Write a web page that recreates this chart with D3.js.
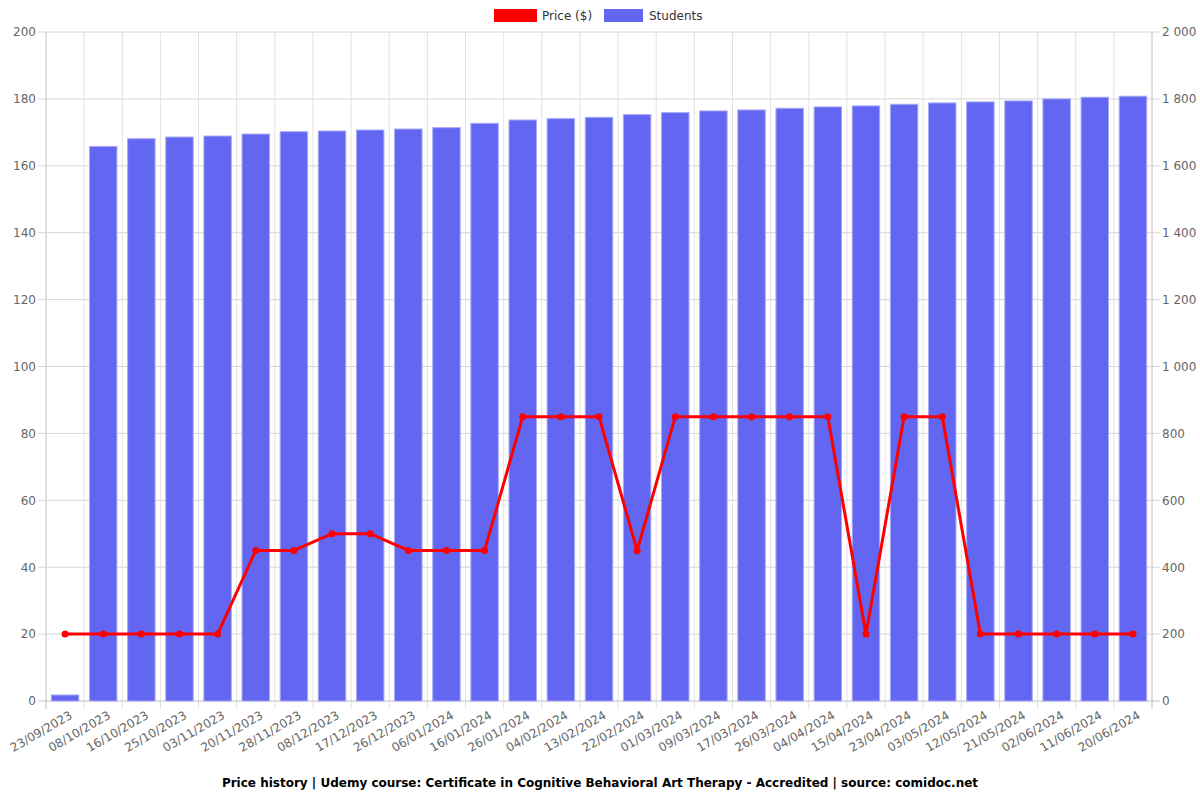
<!DOCTYPE html>
<html>
<head>
<meta charset="utf-8">
<script src="https://cdn.jsdelivr.net/npm/d3@7"></script>
<style>
  body { margin: 0; background: #fff; }
  text { font-family: "DejaVu Sans", sans-serif; }
</style>
</head>
<body>
<div id="chart"></div>
<script>
// data
var dates = ['23/09/2023', '08/10/2023', '16/10/2023', '25/10/2023', '03/11/2023', '20/11/2023',
    '28/11/2023', '08/12/2023', '17/12/2023', '26/12/2023', '06/01/2024', '16/01/2024',
    '26/01/2024', '04/02/2024', '13/02/2024', '22/02/2024', '01/03/2024', '09/03/2024',
    '17/03/2024', '26/03/2024', '04/04/2024', '15/04/2024', '23/04/2024', '03/05/2024',
    '12/05/2024', '21/05/2024', '02/06/2024', '11/06/2024', '20/06/2024'];
var prices = [20, 20, 20, 20, 20, 45, 45, 50, 50, 45, 45, 45, 85, 85, 85, 45, 85, 85, 85, 85, 85,
    20, 85, 85, 20, 20, 20, 20, 20];
var students = [18, 1658, 1681, 1686, 1689, 1695, 1702, 1704, 1707, 1710, 1714, 1727, 1737, 1741,
    1745, 1753, 1759, 1764, 1767, 1772, 1776, 1779, 1784, 1788, 1791, 1794, 1800, 1805, 1808];
var price_ticks = [0, 20, 40, 60, 80, 100, 120, 140, 160, 180, 200];
var student_ticks = [0, 200, 400, 600, 800, 1000, 1200, 1400, 1600, 1800, 2000];
var title = 'Price history | Udemy course: Certificate in Cognitive Behavioral Art Therapy - Accredited | source: comidoc.net';

var width = 1200;
var height = 800;
var plot = {left: 46, right: 1152, top: 32, bottom: 701};

var svg = d3.select('#chart').append('svg')
    .attr('width', width)
    .attr('height', height);

var x_scale = d3.scaleBand()
    .domain(dates)
    .range([plot.left, plot.right]);

var y_price = d3.scaleLinear()
    .domain([0, 200])
    .range([plot.bottom, plot.top]);

var y_students = d3.scaleLinear()
    .domain([0, 2000])
    .range([plot.bottom, plot.top]);

var space_fmt = d3.formatLocale({decimal: '.', thousands: ' ', grouping: [3], currency: ['', '']}).format(',');

// vertical grid at band edges
var edges = dates.map(function (d) { return x_scale(d); }).concat([plot.right]);
svg.append('g').selectAll('line')
    .data(edges)
    .enter()
    .append('line')
    .attr('x1', function (d) { return d; })
    .attr('x2', function (d) { return d; })
    .attr('y1', plot.top)
    .attr('y2', plot.bottom + 8)
    .attr('stroke', function (d, i) { return (i === 0 || i === edges.length - 1) ? '#c0c0c0' : '#e3e3e3'; })
    .attr('stroke-width', 1);

// horizontal grid
svg.append('g').selectAll('line')
    .data(price_ticks)
    .enter()
    .append('line')
    .attr('x1', plot.left - 8)
    .attr('x2', plot.right + 8)
    .attr('y1', function (d) { return y_price(d); })
    .attr('y2', function (d) { return y_price(d); })
    .attr('stroke', function (d) { return d === 0 ? '#c0c0c0' : '#d6d6d6'; })
    .attr('stroke-width', 1);

// left axis
var left_axis = d3.axisLeft(y_price).tickValues(price_ticks).tickSize(0).tickPadding(10);
var gl = svg.append('g')
    .attr('transform', 'translate(' + plot.left + ',0)')
    .call(left_axis);
gl.select('.domain').remove();
gl.selectAll('text').attr('font-size', 12).attr('fill', '#666');

// right axis
var right_axis = d3.axisRight(y_students).tickValues(student_ticks).tickSize(0).tickPadding(10)
    .tickFormat(space_fmt);
var gr = svg.append('g')
    .attr('transform', 'translate(' + plot.right + ',0)')
    .call(right_axis);
gr.select('.domain').remove();
gr.selectAll('text').attr('font-size', 12).attr('fill', '#666');

// bars
var bar_w = x_scale.bandwidth() * 0.72;
svg.append('g').selectAll('rect')
    .data(students)
    .enter()
    .append('rect')
    .attr('x', function (d, i) { return x_scale(dates[i]) + (x_scale.bandwidth() - bar_w) / 2; })
    .attr('y', function (d) { return y_students(d); })
    .attr('width', bar_w)
    .attr('height', function (d) { return plot.bottom - y_students(d); })
    .attr('fill', '#6366f1')
    .attr('stroke', '#a8aaf6')
    .attr('stroke-width', 1);

// price line
var cx = function (d, i) { return x_scale(dates[i]) + x_scale.bandwidth() / 2; };
var line = d3.line()
    .x(cx)
    .y(function (d) { return y_price(d); });

svg.append('path')
    .datum(prices)
    .attr('d', line)
    .attr('fill', 'none')
    .attr('stroke', '#ff0000')
    .attr('stroke-width', 3);

svg.append('g').selectAll('circle')
    .data(prices)
    .enter()
    .append('circle')
    .attr('cx', cx)
    .attr('cy', function (d) { return y_price(d); })
    .attr('r', 3.5)
    .attr('fill', '#ff0000');

// x labels
svg.append('g').selectAll('text')
    .data(dates)
    .enter()
    .append('text')
    .attr('transform', function (d) {
        return 'translate(' + (x_scale(d) + x_scale.bandwidth() / 2 + 6) + ',' + (plot.bottom + 13) + ') rotate(-30)';
    })
    .attr('text-anchor', 'end')
    .attr('font-size', 12)
    .attr('fill', '#666')
    .attr('dy', '0.35em')
    .text(function (d) { return d; });

// legend
var legend = svg.append('g');
legend.append('rect').attr('x', 494).attr('y', 9).attr('width', 43).attr('height', 13).attr('fill', '#ff0000');
legend.append('text').attr('x', 542).attr('y', 20).attr('font-size', 12).attr('fill', '#333').text('Price ($)');
legend.append('rect').attr('x', 604).attr('y', 9).attr('width', 39).attr('height', 13).attr('fill', '#6366f1');
legend.append('text').attr('x', 649).attr('y', 20).attr('font-size', 12).attr('fill', '#333').text('Students');

// title
svg.append('text')
    .attr('x', 600)
    .attr('y', 787)
    .attr('text-anchor', 'middle')
    .attr('font-size', 12)
    .attr('font-weight', 'bold')
    .attr('fill', '#000')
    .text(title);
</script>
</body>
</html>
